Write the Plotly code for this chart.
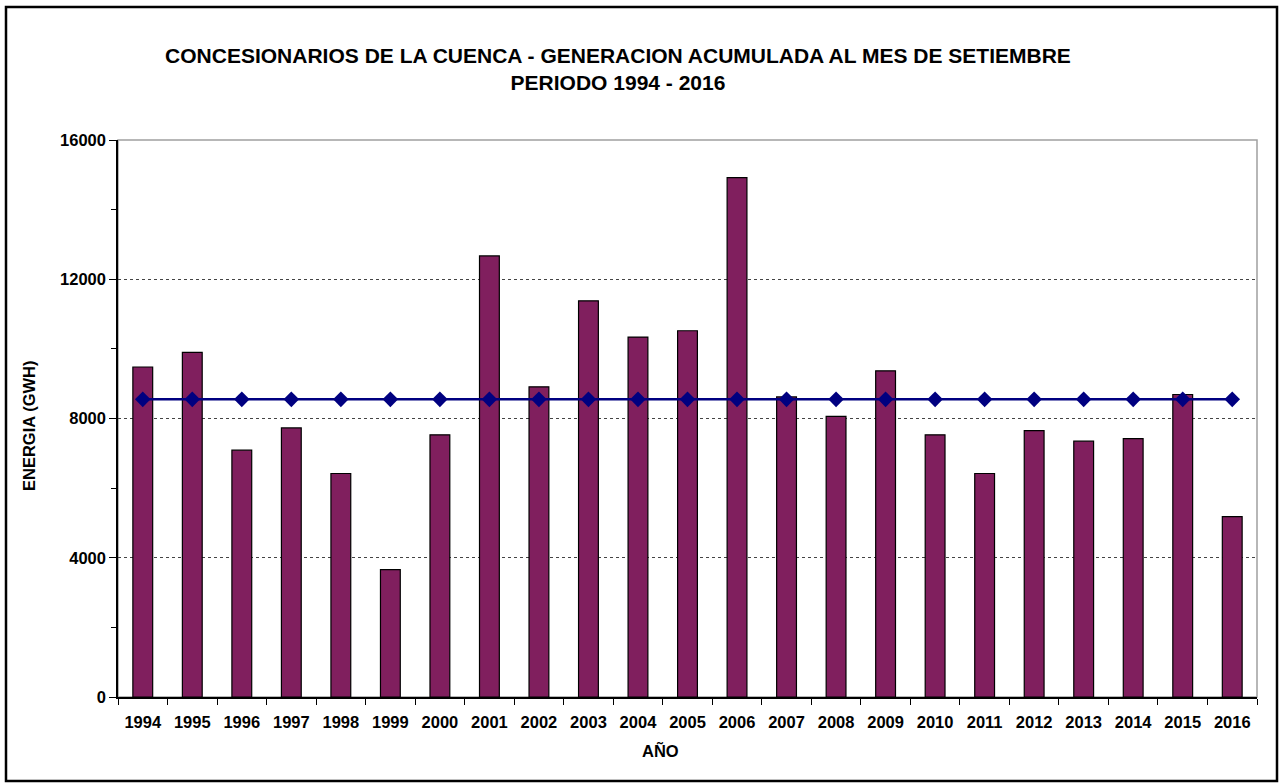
import plotly.graph_objects as go

years = [str(y) for y in range(1994, 2017)]
energia = [9480, 9900, 7090, 7730, 6420, 3660, 7530, 12670, 8910, 11380, 10340, 10520,
           14920, 8620, 8060, 9370, 7530, 6420, 7650, 7350, 7420, 8690, 5180]
promedio = [8550] * len(years)

title_lines = ["CONCESIONARIOS DE LA CUENCA - GENERACION ACUMULADA AL MES DE SETIEMBRE",
               "PERIODO 1994 - 2016"]
y_ticks = [0, 4000, 8000, 12000, 16000]

W, H = 1279, 783
L, R, T, B = 118, 22, 140, 86
pw, ph = W - L - R, H - T - B

def px_x(x):
    return (x - L) / pw

def px_y(y):
    return (H - B - y) / ph

fig = go.Figure()
fig.add_trace(go.Bar(x=years, y=energia, width=0.4,
                     marker=dict(color="#801F5E", line=dict(color="#000000", width=1.2)),
                     showlegend=False))
fig.add_trace(go.Scatter(x=years, y=promedio, mode="lines+markers",
                         line=dict(color="#000080", width=2.5),
                         marker=dict(symbol="diamond", size=12, color="#000080"),
                         showlegend=False))

font_family = "Liberation Sans, Arial, sans-serif"

fig.update_layout(
    width=W, height=H,
    margin=dict(l=L, r=R, t=T, b=B),
    paper_bgcolor="white", plot_bgcolor="white",
    font=dict(family=font_family, color="black"),
    title=dict(text="<b>" + "<br>".join(title_lines) + "</b>",
               x=618 / W, xanchor="center",
               y=1 - 63 / H, yanchor="middle",
               font=dict(size=21, family=font_family, color="black")),
    bargap=0.6,
    shapes=[
        dict(type="rect", xref="paper", yref="paper", x0=0, x1=1, y0=0, y1=1,
             line=dict(color="#A0A0A0", width=1.5), layer="below"),
        dict(type="rect", xref="paper", yref="paper",
             x0=px_x(6), x1=px_x(1277), y0=px_y(781), y1=px_y(7),
             line=dict(color="black", width=2.5)),
    ],
    annotations=[
        dict(text="<b>ENERGIA (GWH)</b>", xref="paper", yref="paper",
             x=px_x(29), y=px_y(426), textangle=-90, showarrow=False,
             xanchor="center", yanchor="middle",
             font=dict(size=16.5, family=font_family, color="black")),
        dict(text="<b>AÑO</b>", xref="paper", yref="paper",
             x=px_x(660), y=px_y(750), showarrow=False,
             xanchor="center", yanchor="middle",
             font=dict(size=16.5, family=font_family, color="black")),
    ],
)

fig.update_xaxes(
    type="category", tickson="boundaries", ticks="outside", ticklen=6,
    tickcolor="black", tickwidth=1,
    showline=True, linecolor="black", linewidth=1.5,
    showgrid=False, range=[-0.5, 22.5],
    ticklabelstandoff=9,
    tickfont=dict(size=16.5, family=font_family, color="black"),
    tickprefix="<b>", ticksuffix="</b>",
)
fig.update_yaxes(
    range=[0, 16000], tickvals=y_ticks, ticktext=["<b>%d</b>" % v for v in y_ticks],
    ticks="outside", ticklen=7, tickcolor="black", tickwidth=1,
    minor=dict(dtick=2000, ticks="outside", ticklen=5, tickcolor="black", showgrid=False),
    showline=True, linecolor="black", linewidth=1.5,
    showgrid=True, gridcolor="#444444", griddash="3px,3px", gridwidth=1,
    zeroline=False,
    tickfont=dict(size=16.5, family=font_family, color="black"),
)

fig.write_html("out.html",
               config={"displayModeBar": False},
               post_script="document.body.style.margin='0';document.body.style.overflow='hidden';")
